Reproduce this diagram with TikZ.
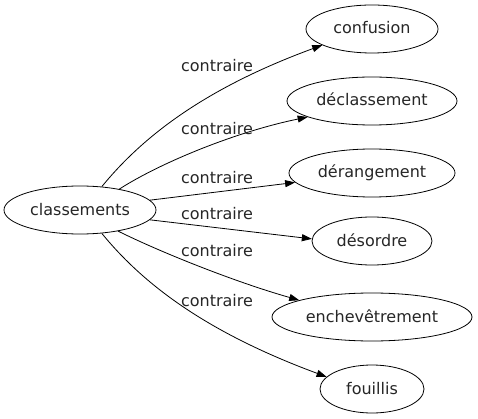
\documentclass[tikz,border=0pt]{standalone}
\usepackage{fontspec}
\setmainfont{DejaVu Sans}
\usetikzlibrary{shapes.geometric,arrows.meta}
\begin{document}
\begin{tikzpicture}[x=1pt,y=-1pt,
  every node/.style={font=\fontsize{16}{19}\selectfont, text=black!85},
  term/.style={draw=black, ellipse, inner sep=0pt, minimum height=48pt, text height=11pt, text depth=1pt, line width=0.8pt},
  rel/.style={-{Triangle[length=10pt,width=7pt]}, line width=0.8pt},
  lab/.style={anchor=base, inner sep=0pt}]
\useasboundingbox (0,0) rectangle (478,419);
\node[term, minimum width=152pt] (cl) at (80,210) {classements};
\node[term, minimum width=132pt] (n1) at (372,29) {confusion};
\node[term, minimum width=170pt] (n2) at (372,101) {déclassement};
\node[term, minimum width=166pt] (n3) at (372,173) {dérangement};
\node[term, minimum width=120pt] (n4) at (372,241) {désordre};
\node[term, minimum width=200pt] (n5) at (372,317) {enchevêtrement};
\node[term, minimum width=104pt] (n6) at (372,389) {fouillis};
\draw[rel] (cl.47) .. controls (140,140) and (200,90) .. (n1.198);
\draw[rel] (cl.28) .. controls (160,163) and (235,132) .. (n2.194);
\draw[rel] (cl.8) -- (n3.187);
\draw[rel] (cl.-8) -- (n4.178);
\draw[rel] (cl.-29) .. controls (160,252) and (235,282) .. (n5.167);
\draw[rel] (cl.-47) .. controls (140,280) and (200,330) .. (n6.165);
\node[lab] (l1) at (217,72) {contraire};
\node[lab] (l2) at (217,135) {contraire};
\node[lab] (l3) at (217,184) {contraire};
\node[lab] (l4) at (217,219) {contraire};
\node[lab] (l5) at (217,256) {contraire};
\node[lab] (l6) at (217,306) {contraire};
\end{tikzpicture}
\end{document}
